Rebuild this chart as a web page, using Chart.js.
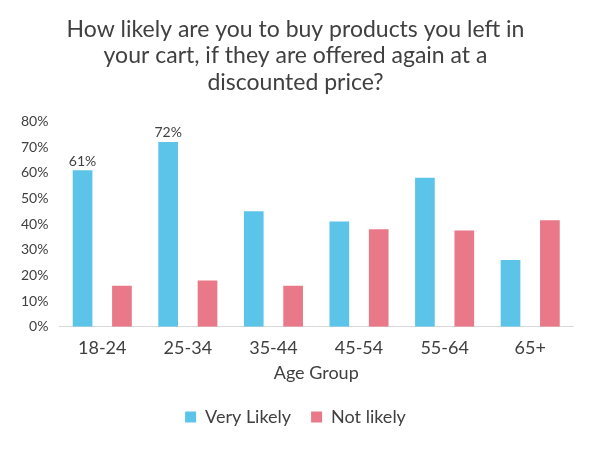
<!DOCTYPE html>
<html><head><meta charset="utf-8">
<script src="https://cdn.jsdelivr.net/npm/chart.js@4"></script>
<style>body{margin:0;background:#fff}#wrap{width:591px;height:450px}</style>
</head><body><div id="wrap"><canvas id="c"></canvas></div>
<script>
const AGE_GROUPS = ["18-24","25-34","35-44","45-54","55-64","65+"];
const VERY_LIKELY = [61,72,45,41,58,26];
const NOT_LIKELY = [16,18,16,38,37.5,41.5];
const LABELED = [0,1];

// draw value labels over the first two blue bars
const labelPlugin = {
  id:'labels',
  afterDatasetsDraw(chart){
    const ctx = chart.ctx;
    const meta = chart.getDatasetMeta(0);
    ctx.save();
    ctx.font = '14px Lato';
    ctx.fillStyle = '#404040';
    ctx.textAlign = 'center';
    LABELED.forEach(i=>{
      const b = meta.data[i];
      ctx.fillText(VERY_LIKELY[i] + '%', b.x, b.y - 9);
    });
    ctx.restore();
  }
};

new Chart(document.getElementById('c'), {
  type:'bar',
  data:{
    labels: AGE_GROUPS,
    datasets:[
      {label:'Very Likely', data: VERY_LIKELY, backgroundColor:'#5bc4e8'},
      {label:'Not likely', data: NOT_LIKELY, backgroundColor:'#e97888'}
    ]
  },
  options:{
    responsive:true, maintainAspectRatio:false, animation:false,
    layout:{padding:{left:18,right:18,top:4,bottom:14}},
    datasets:{bar:{barPercentage:0.5,categoryPercentage:0.92}},
    plugins:{
      title:{display:true, text:['How likely are you to buy products you left in','your cart, if they are offered again at a','discounted price?'],
        font:{family:'Lato',size:23,weight:'normal',lineHeight:1.15}, color:'#404040', padding:{top:12,bottom:26}},
      legend:{position:'bottom', labels:{font:{family:'Lato',size:18}, color:'#404040', boxWidth:11, boxHeight:11, padding:20}},
      tooltip:{enabled:false}
    },
    scales:{
      x:{grid:{display:false}, border:{color:'#d9d9d9'},
        ticks:{font:{family:'Lato',size:18}, color:'#404040'},
        title:{display:true,text:'Age Group',font:{family:'Lato',size:18},color:'#404040',padding:{top:0}}},
      y:{min:0,max:80, grid:{display:false}, border:{display:false},
        ticks:{stepSize:10, callback:v=>v+'%', font:{family:'Lato',size:14}, color:'#404040'}}
    }
  },
  plugins:[labelPlugin]
});
</script></body></html>
